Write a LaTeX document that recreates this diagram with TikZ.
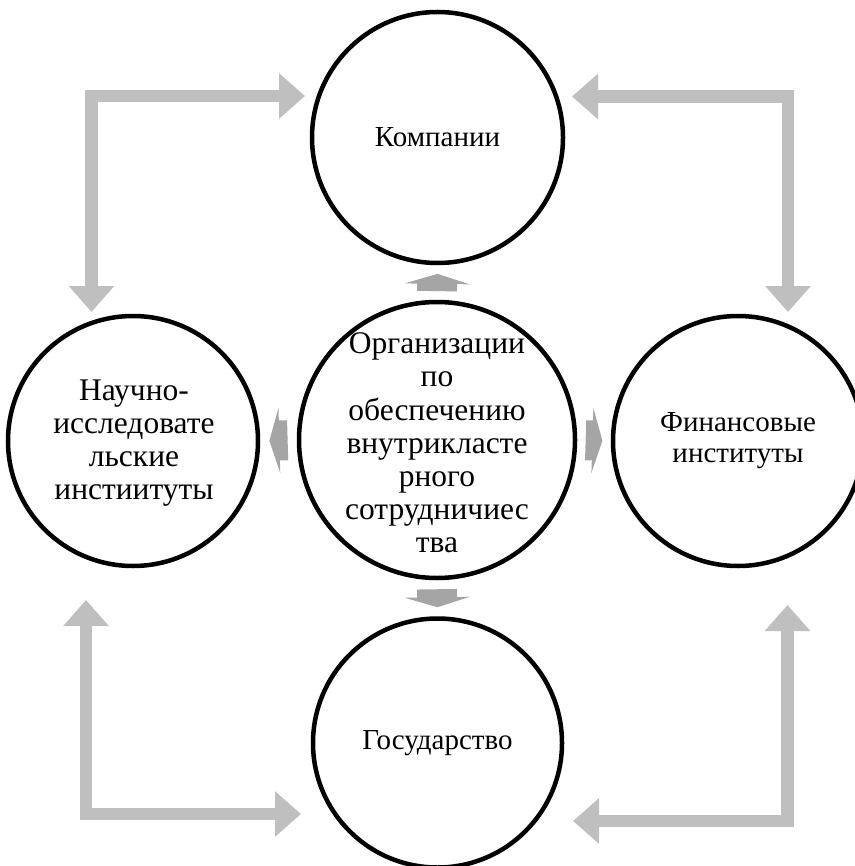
\documentclass[tikz,border=0pt]{standalone}
\usepackage{fontspec}
\setmainfont{Liberation Serif}
\usetikzlibrary{arrows.meta,calc}
\definecolor{lightarr}{HTML}{BFBFBF}
\definecolor{midarr}{HTML}{A5A5A5}
\begin{document}
\begin{tikzpicture}[x=1pt,y=-1pt,
  circ/.style={circle,draw=black,line width=4.5pt,fill=white,inner sep=0pt},
  lbl/.style={align=center,inner sep=0pt,font=\fontsize{29}{31}\selectfont},
  biglbl/.style={align=center,inner sep=0pt,font=\fontsize{31.5}{33.2}\selectfont},
  bigarr/.style={draw=lightarr,line width=12.5pt,
    {Triangle[length=26pt,width=44pt]}-{Triangle[length=26pt,width=44pt]}},
  smallarr/.style={draw=midarr,line width=40pt,
    -{Triangle[length=10pt,width=65pt]}}]
\useasboundingbox (0,0) rectangle (854,866);
\fill[white] (0,0) rectangle (854,866);
% circles
\node[circ,minimum size=251pt] (T) at (437.5,137.5) {};
\node[circ,minimum size=249pt] (B) at (437.5,743) {};
\node[circ,minimum size=250pt] (L) at (133,441) {};
\node[circ,minimum size=250pt] (R) at (738,441) {};
\node[circ,minimum size=276pt] (C) at (437,440) {};
% texts
\node[lbl] (Tt) at (T.center) {Компании};
\node[lbl] (Bt) at (B.center) {Государство};
\node[biglbl] (Lt) at ($(L.center)+(1,2)$) {Научно-\\исследовате\\льские\\инстиитуты};
\node[lbl] (Rt) at (R.center) {Финансовые\\институты};
\node[biglbl] (Ct) at ($(C.center)+(0,3)$) {Организации\\по\\обеспечению\\внутрикласте\\рного\\сотрудничиес\\тва};
% small central arrows
\path (C.north) -- (T.south) coordinate[pos=0.25] (u1) coordinate[pos=0.75] (u2);
\path (C.south) -- (B.north) coordinate[pos=0.25] (d1) coordinate[pos=0.75] (d2);
\path (C.west) -- (L.east) coordinate[pos=0.25] (l1) coordinate[pos=0.75] (l2);
\path (C.east) -- (R.west) coordinate[pos=0.25] (r1) coordinate[pos=0.75] (r2);
\draw[smallarr] (u1) -- (u2);
\draw[smallarr] (d1) -- (d2);
\draw[smallarr] (l1) -- (l2);
\draw[smallarr] (r1) -- (r2);
% corner double arrows
\coordinate (tlA) at (91.5,312);
\coordinate (tlB) at (305,96);
\coordinate (trA) at (572,96.5);
\coordinate (trB) at (788,312);
\coordinate (blA) at (86,600);
\coordinate (blB) at (301,814);
\coordinate (brA) at (573,821);
\coordinate (brB) at (787.5,605);
\draw[bigarr] (tlA) |- (tlB);
\draw[bigarr] (trA) -| (trB);
\draw[bigarr] (blA) |- (blB);
\draw[bigarr] (brA) -| (brB);
\end{tikzpicture}
\end{document}
